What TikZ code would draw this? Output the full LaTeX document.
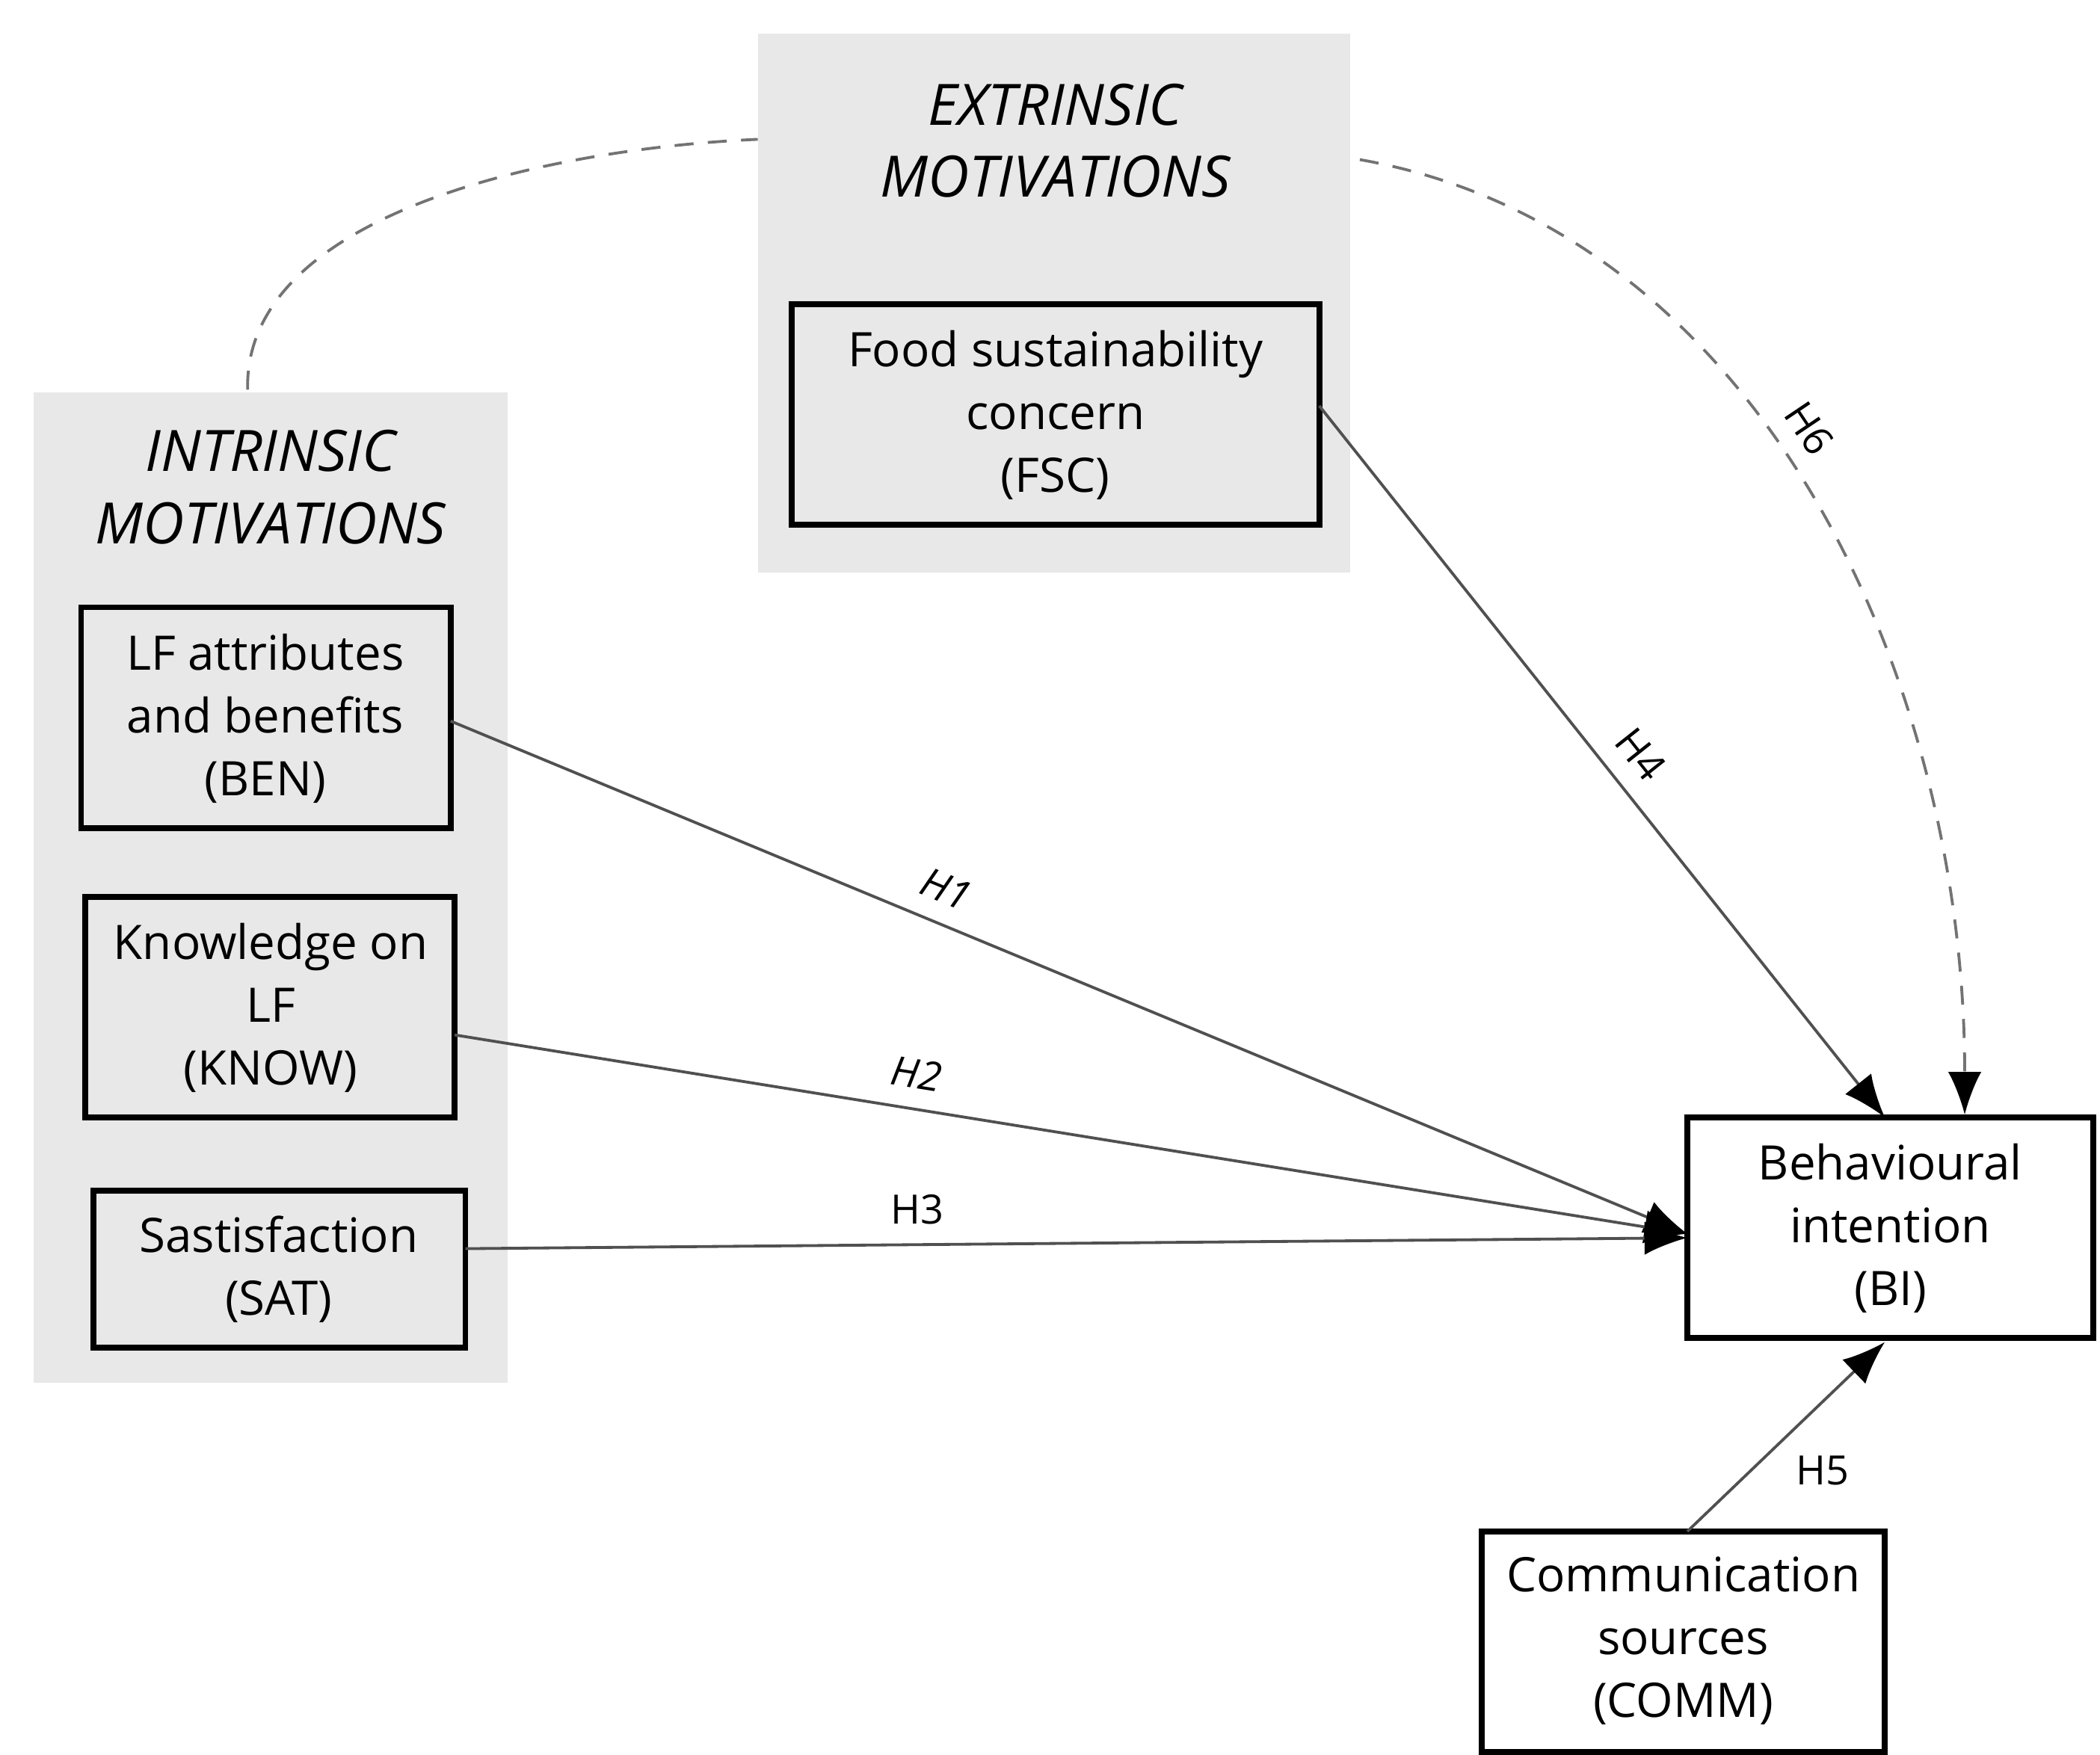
\documentclass[tikz,border=0pt]{standalone}
\usepackage{fontspec}
\setmainfont{Open Sans}
\usetikzlibrary{arrows.meta}
\definecolor{panel}{HTML}{E8E8E8}
\definecolor{ln}{HTML}{505050}
\begin{document}
\begin{tikzpicture}[x=0.01cm,y=-0.01cm,
  box/.style={draw=black,line width=1.2pt,inner sep=0pt},
  txt/.style={font=\fontsize{10}{13.2}\selectfont,align=center},
  ttl/.style={font=\fontsize{12}{15.2}\selectfont\itshape,align=center},
  arr/.style={draw=ln,line width=0.6pt,-{Latex[length=9pt,width=7pt,color=black]}},
  dsh/.style={draw=ln!80,line width=0.6pt,dash pattern=on 4pt off 3pt},
  lab/.style={font=\fontsize{8.5}{10}\selectfont,inner sep=1pt}]
\useasboundingbox (0,0) rectangle (1552,1297);
\fill[panel] (560,25) rectangle (998,423);
\fill[panel] (25,290) rectangle (375,1022);
\node[ttl] (ext) at (780,104) {EXTRINSIC\\MOTIVATIONS};
\node[ttl] (int) at (200,360) {INTRINSIC\\MOTIVATIONS};
\draw[box,fill=panel] (585,225) rectangle (975,388);
\node[txt] (fsc) at (780,307) {Food sustainability\\concern\\(FSC)};
\draw[box,fill=panel] (60,449) rectangle (333,612);
\node[txt] (ben) at (196,531) {LF attributes\\and benefits\\(BEN)};
\draw[box,fill=panel] (63,663) rectangle (336,826);
\node[txt] (know) at (200,745) {Knowledge on\\LF\\(KNOW)};
\draw[box,fill=panel] (69,880) rectangle (344,996);
\node[txt] (sat) at (206,938) {Sastisfaction\\(SAT)};
\draw[box,fill=white] (1247,826) rectangle (1547,989);
\node[txt] (bi) at (1397,908) {Behavioural\\intention\\(BI)};
\draw[box,fill=white] (1095,1132) rectangle (1393,1295);
\node[txt] (comm) at (1244,1213) {Communication\\sources\\(COMM)};
\coordinate (a1) at (333,533); \coordinate (a2) at (336,765); \coordinate (a3) at (344,923);
\coordinate (b1) at (1247,912); \coordinate (b3) at (1247,915);
\coordinate (f1) at (975,300); \coordinate (bt) at (1393,826);
\coordinate (c1) at (1247,1132); \coordinate (bb) at (1393,992);
\coordinate (i0) at (183,288); \coordinate (e0) at (560,103);
\coordinate (e1) at (1005,118); \coordinate (bt2) at (1452,824);
\coordinate (h5) at (1347,1087);
\draw[arr] (a1) -- node[lab,pos=0.39,above=3pt,sloped,font=\fontsize{8.5}{10}\selectfont\itshape] {H1} (b1);
\draw[arr] (a2) -- node[lab,pos=0.37,above=3pt,sloped,font=\fontsize{8.5}{10}\selectfont\itshape] {H2} (b1);
\draw[arr] (a3) -- node[lab,pos=0.37,above=3pt] {H3} (b3);
\draw[arr] (f1) -- node[lab,pos=0.52,above=3pt,sloped] {H4} (bt);
\draw[arr] (c1) -- (bb);
\node[lab] (l5) at (h5) {H5};
\draw[dsh] (i0) .. controls (180,160) and (400,110) .. (e0);
\draw[dsh,-{Latex[length=9pt,width=7pt,color=black]}] (e1) .. controls (1300,170) and (1452,500) .. node[lab,pos=0.45,above=3pt,sloped] {H6} (bt2);
\end{tikzpicture}
\end{document}
